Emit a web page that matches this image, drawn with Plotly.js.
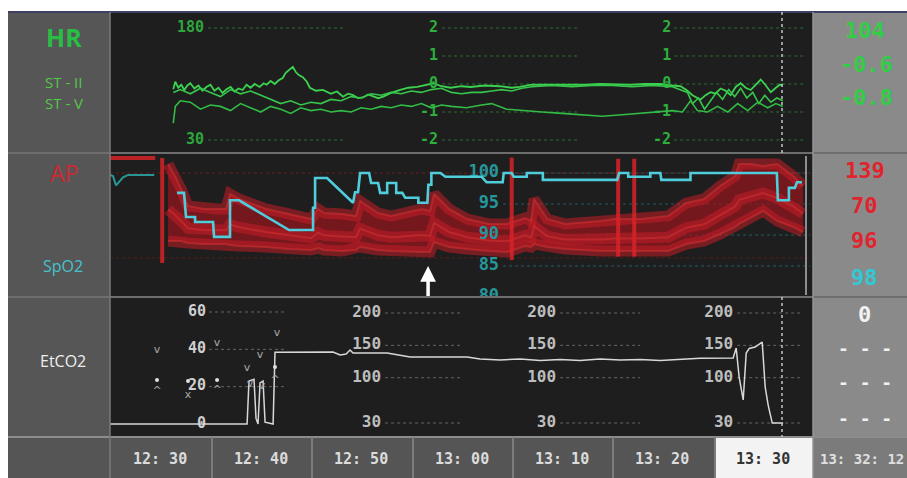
<!DOCTYPE html>
<html><head><meta charset="utf-8">
<script src="https://cdn.plot.ly/plotly-3.0.1.min.js"></script>
<style>html,body{margin:0;padding:0;background:#fff;overflow:hidden}#chart{width:907px;height:478px}</style>
</head><body><div id="chart"></div>
<script>
// ---------------- DATA (time in minutes after 12:25) ----------------
const timeLabels = ['12: 30','12: 40','12: 50','13: 00','13: 10','13: 20','13: 30'];
const timeCenters = [5,15,25,35,45,55,65];
const clockNow = '13: 32: 12';

const hrT = [6.3,6.5,6.8,7.1,7.4,7.7,8.0,8.4,8.8,9.2,9.6,10.0,10.4,10.8,11.2,11.6,12.0,12.4,12.8,13.2,13.6,14.0,14.4,14.9,15.3,15.6,16.0,16.4,16.8,17.2,17.5,17.8,18.2,18.5,18.8,19.2,19.6,19.9,
  20.5,21.2,22.0,22.6,23.2,23.7,24.2,24.7,25.2,25.7,26.2,26.7,27.2,28.0,28.9,29.7,30.6,31.4,32.2,33.0,33.9,35.0,35.9,37.3,38.8,40.0,40.8,42.0,42.8,44.3,45.8,47.3,48.8,50.3,51.8,53.3,54.8,56.0,56.8,57.4,58.0,58.8,59.3,59.8,60.3,60.8,61.3,61.8,62.3,62.8,63.3,63.8,64.3,64.8,65.3,65.8,66.3,66.7,67.0];
const hrV = [98,108,100,104,97,103,106,99,103,96,101,104,96,100,93,98,101,95,99,97,104,100,105,101,106,104,109,105,110,113,120,124,128,121,117,114,108,100,
  96,97,92,95,88,92,90,86,87,91,89,86,88,93,97,100,101,103,106,102,100,102,101,103,102,100,101,104,104,103,104,104,105,104,104,105,105,103,102,97,90,84,90,94,92,99,96,90,101,106,100,97,104,111,103,94,100,104,104];

const st2T = [6.3,7,8,9,10,11,12,13,14,15,16,17,18,19,20,21,22,23,24,25,26,27,28,29,30,31,32,33,34,35,36,37,38,39,40,41,42,44,46,48,50,52,54,56,57.5,58.0,58.6,59.2,59.8,60.4,61.0,61.6,62.2,62.8,63.4,64.0,64.6,65.2,65.8,66.4,67.0];
const st2V = [-0.3,-0.2,-0.35,-0.15,-0.3,-0.45,-0.2,-0.35,-0.25,-0.4,-0.55,-0.7,-0.6,-0.75,-0.65,-0.7,-0.55,-0.6,-0.45,-0.5,-0.35,-0.4,-0.3,-0.35,-0.25,-0.3,-0.2,-0.15,-0.3,-0.35,-0.3,-0.3,-0.25,-0.2,-0.25,-0.15,-0.1,-0.05,-0.1,-0.05,-0.05,-0.1,-0.05,-0.1,-0.3,-0.7,-0.5,-0.9,-0.6,-0.3,-0.55,-0.2,-0.45,-0.15,-0.5,-0.3,-0.7,-0.4,-0.65,-0.5,-0.6];

const stVT = [6.3,6.5,7,8,9,10,11,12,13,14,15,16,17,18,19,20,21,22,23,24,25,26,27,28,29,30,31,32,33,34,35.5,37,38,39.5,41,43,45,47,49,51,53,54.8,56,57,57.8,58.5,59.5,60.5,61.5,62.5,63.5,64.5,65.5,66.3,67.0];
const stVV = [-1.4,-0.8,-0.6,-0.65,-0.9,-0.75,-0.8,-0.95,-0.7,-0.85,-1.0,-0.8,-0.9,-1.05,-0.85,-0.95,-0.9,-1.0,-0.95,-1.0,-0.85,-0.9,-0.8,-0.85,-0.75,-0.8,-0.7,-0.85,-0.75,-0.8,-0.85,-0.75,-0.7,-0.9,-0.95,-1.0,-1.05,-1.1,-1.15,-1.1,-1.05,-1.0,-0.95,-1.0,-0.6,-0.95,-1.0,-0.8,-1.0,-0.7,-0.95,-0.65,-0.85,-0.7,-0.8];

const apT    = [5.78,6.47,7.07,7.77,9.36,10.66,11.55,11.95,12.85,15.54,17.83,20.02,20.72,21.31,23.11,24.5,24.9,26.69,27.99,31.08,31.87,32.27,33.76,35.56,37.75,39.54,41.33,41.93,42.23,43.53,45.32,48.9,50.2,52.89,55.58,57.37,59.16,60.76,62.25,62.65,63.75,65.04,66.43,68.03,69.02];
const apSys  = [135.5,125.0,113.8,99.0,96.4,96.4,96.4,109.4,105.1,96.4,92.1,87.7,96.4,92.9,92.1,90.3,103.3,92.9,90.3,96.4,94.7,109.4,96.4,87.7,83.4,83.4,88.6,86.0,105.1,87.7,83.4,86.0,87.7,87.7,90.3,101.6,105.1,116.4,125.0,135.5,135.5,133.7,135.5,125.0,116.4];
const apMean = [95.9,91.4,86.2,79.6,77.9,77.9,77.9,82.9,80.6,76.4,73.6,71.0,75.9,73.5,72.6,71.9,79.4,73.5,71.9,73.8,73.0,84.4,76.4,71.8,69.0,68.4,73.6,71.5,81.6,72.7,69.9,70.0,70.8,70.8,71.9,80.2,83.1,91.4,98.6,104.4,107.4,110.3,105.9,98.6,92.4];
const apDia  = [68.6,68.6,68.6,66.9,66.0,66.0,66.0,65.1,64.3,63.4,61.7,60.8,62.5,60.8,59.9,60.8,63.4,60.8,59.9,59.1,59.1,67.7,63.4,61.7,59.9,59.1,64.3,63.4,66.0,63.4,61.7,59.9,59.9,59.9,59.9,66.0,68.6,74.7,80.8,83.4,88.6,94.7,86.0,80.8,76.4];
const apArtT = [0,4.5,null,5.2,5.2,null,40.0,40.0,null,50.6,50.6,null,52.2,52.2];
const apArtV = [140.7,140.7,null,140.7,49.5,null,141,52,null,140,55,null,140,55];

const spPreT = [0,0.3,0.6,0.9,1.3,1.8,4.4];
const spPreV = [99.7,99.5,98.0,98.6,99.3,99.7,99.7];
const spT = [6.67,7.37,7.57,8.47,8.47,10.26,10.36,11.95,11.95,12.85,17.83,20.22,20.22,20.42,20.42,21.61,24.2,24.4,24.7,24.9,25.8,26.0,26.7,26.9,27.6,27.6,28.5,28.5,29.1,29.4,30.7,30.7,31.6,31.7,32.0,32.0,32.9,33.4,37.0,37.5,39.1,39.2,40.0,40.2,41.5,41.5,43.1,43.1,50.5,50.7,51.6,51.6,53.8,53.8,54.8,54.9,57.8,57.8,66.4,66.5,67.6,67.6,68.2,68.4,68.9];
const spV = [96.8,96.8,92.9,92.9,92.1,92.1,89.7,89.7,95.6,95.6,90.8,90.8,94.4,94.4,99.2,99.2,95.2,96.9,96.9,100,100,98.4,98.4,96.8,96.8,98.4,98.4,96.8,96.8,96.0,96.0,95.2,95.2,98.1,98.1,100,100,99.4,99.4,98.5,98.5,100,100,99.4,99.4,100,100,98.9,98.9,100,100,99.4,99.4,100,100,98.9,98.9,100,100,95.6,95.6,97.6,97.6,98.5,98.5];

const etT = [0,13.65,13.84,14.34,14.54,14.74,14.94,15.24,15.44,16.24,16.43,18.92,22.21,22.91,23.51,23.9,24.2,27.59,29.88,35.56,36.85,38.84,40.84,42.83,44.82,46.81,48.8,50.8,52.79,54.78,56.77,58.76,62.05,62.35,62.65,63.05,63.35,63.65,64.24,64.94,65.24,65.54,65.94,67.03];
const etV = [0,0,23,24,3,0,22,23,1,0,38.5,38.6,38.6,37.0,37.5,39.6,38.0,38.0,35.9,35.9,34.8,34.3,34.8,34.0,34.6,34.0,34.8,34.3,34.6,34.0,34.8,35.2,35.4,40.7,25,12.9,38,40.5,41.2,43.9,19.8,10,0.5,0.5];
const etMarkT = [4.68,10.66,16.63,14.94,13.65,4.68,7.77,10.66,16.43,13.94,15.14];
const etMarkV = [39.6,43.4,48.7,37.0,30.0,17.7,15.5,18.2,23.6,21.4,20.4];
const etMarkSym = ['v','v','v','v','v','^','x','^','^','v','v'];
const etDotT = [4.68,7.77,10.66,16.43];
const etDotV = [23.6,23.0,23.6,30.5];

const hrScale = [180,30];
const stScale = [2,1,0,-1,-2];
const spScale = [100,95,90,85,80];
const etScale = [60,40,20,0];
const pawScale = [200,150,100,30];

const nowVals = {hr:'104', st2:'-0.6', stV:'-0.8', sys:'139', dia:'70', mean:'96', spo2:'98', etco2:'0'};

// ---------------- LAYOUT HELPERS ----------------
const W=907,H=478;
const px=x=>x/W, py=y=>1-y/H;
const T=p=>(p-110)/10.04;
const MONO='DejaVu Sans Mono, monospace';

const traces=[];
function textTrace(xs, ys, texts, yaxis, color, size){
  traces.push({type:'scatter',mode:'text',x:xs,y:ys,text:texts.map(s=>'<b>'+s+'</b>'),
    textposition:'middle left',textfont:{family:MONO,size:size,color:color},
    xaxis:'x',yaxis:yaxis,hoverinfo:'skip',cliponaxis:true});
}
function line(x,y,yaxis,color,width,extra){
  traces.push(Object.assign({type:'scatter',mode:'lines',x:x,y:y,xaxis:'x',yaxis:yaxis,
    line:{color:color,width:width},hoverinfo:'skip',connectgaps:false},extra||{}));
}

// scale labels (under the data)
textTrace(hrScale.map(()=>T(204)), hrScale, hrScale.map(String), 'y', 'rgb(45,165,60)', 15);
[T(438),T(671)].forEach(xp=>textTrace(stScale.map(()=>xp), stScale, stScale.map(String), 'y2', 'rgb(45,175,60)', 15));
textTrace(etScale.map(()=>T(206)), etScale, etScale.map(String), 'y5', '#cfcfcf', 15);
[T(381),T(556),T(733)].forEach(xp=>textTrace(pawScale.map(()=>xp), pawScale, pawScale.map(String), 'y6', '#bdbdbd', 16));

// HR / ST
line(hrT,hrV,'y','rgb(60,210,80)',1.8);
line(st2T,st2V,'y2','rgb(55,198,75)',1.6);
line(stVT,stVV,'y2','rgb(50,188,70)',1.6);

// AP band
line(apT,apDia,'y3','rgba(0,0,0,0)',0);
line(apT,apSys,'y3','rgba(0,0,0,0)',0,{fill:'tonexty',fillcolor:'rgba(150,22,30,0.72)'});
[apSys,apMean,apDia].forEach(a=>line(apT,a,'y3','rgba(195,30,38,0.55)',11));
[apSys,apMean,apDia].forEach(a=>line(apT,a,'y3','rgba(225,55,55,0.45)',2));
line(apArtT,apArtV,'y3','rgba(215,35,40,0.85)',4);

// SpO2
textTrace(spScale.map(()=>T(499)), spScale, spScale.map(String), 'y4', 'rgb(38,150,155)', 17);
line(spPreT,spPreV,'y4','rgb(40,150,150)',2);
line(spT,spV,'y4','rgb(80,205,220)',2.6);

// EtCO2
line(etT,etV,'y5','#d8d8d8',1.5);
traces.push({type:'scatter',mode:'text',x:etMarkT,y:etMarkV,text:etMarkSym,textposition:'middle center',
  textfont:{family:'DejaVu Sans',size:11,color:'#a8a8a8'},xaxis:'x',yaxis:'y5',hoverinfo:'skip'});
traces.push({type:'scatter',mode:'markers',x:etDotT,y:etDotV,marker:{size:4,color:'#e0e0e0'},xaxis:'x',yaxis:'y5',hoverinfo:'skip'});

// ---------------- SHAPES ----------------
const shapes=[];
const rect=(x0,y0,x1,y1,fill,layer)=>shapes.push({type:'rect',xref:'paper',yref:'paper',x0:px(x0),x1:px(x1),y0:py(y1),y1:py(y0),fillcolor:fill,line:{width:0},layer:layer||'below'});
const pline=(x0,y0,x1,y1,color,width,dash,layer)=>shapes.push({type:'line',xref:'paper',yref:'paper',x0:px(x0),x1:px(x1),y0:py(y0),y1:py(y1),line:{color:color,width:width,dash:dash||'solid'},layer:layer||'above'});
const dline=(x0,x1,y,yref,color)=>shapes.push({type:'line',xref:'x',yref:yref,x0:x0,x1:x1,y0:y,y1:y,line:{color:color,width:1,dash:'dot'},layer:'below'});

rect(8,12,110,437,'#565656');
rect(110,12,813,437,'#1e1e1e');
rect(813,12,907,437,'#8a8a8a');
rect(8,437,813,478,'#555555');
rect(715,437,813,478,'#f3f3f3');
rect(813,437,907,478,'#7b7b7b');

// gridlines
hrScale.forEach(v=>dline(T(208),T(343),v,'y','rgba(45,130,55,0.8)'));
[[T(442),T(577)],[T(674),T(805)]].forEach(r=>stScale.forEach(v=>dline(r[0],r[1],v,'y2','rgba(45,130,55,0.8)')));
dline(T(110),T(813),127.6,'y3','rgba(140,30,30,0.7)');
dline(T(110),T(813),53.9,'y3','rgba(140,30,30,0.55)');
spScale.slice(0,4).forEach(v=>dline(T(503),T(810),v,'y4','rgba(40,120,125,0.7)'));
etScale.slice(0,3).forEach(v=>dline(T(209),T(287),v,'y5','rgba(150,150,150,0.6)'));
[[T(385),T(463)],[T(560),T(640)],[T(737),T(803)]].forEach(r=>pawScale.forEach(v=>dline(r[0],r[1],v,'y6','rgba(150,150,150,0.6)')));

// frame lines
pline(8,12,907,12,'#3d4060',2);
pline(8,153,907,153,'#6e6e6e',2);
pline(8,297,907,297,'#6e6e6e',2);
pline(8,437,907,437,'#8c8c8c',2);
pline(110,12,110,478,'#7a7a7a',1.5);
pline(813,12,813,478,'#959595',1.5);
[212,312,413,513,613,715].forEach(x=>pline(x,437,x,478,'#7c7c7c',2));
pline(782,12,782,153,'#c4c4c4',1.5,'dot');
pline(782,297,782,437,'#c4c4c4',1.5,'dot');
pline(806,156,806,295,'#8e8e8e',2);

// ---------------- ANNOTATIONS ----------------
const ann=[];
const ptext=(x,y,text,color,size,family,anchor)=>ann.push({xref:'paper',yref:'paper',x:px(x),y:py(y),text:text,showarrow:false,
  xanchor:anchor||'center',yanchor:'middle',font:{family:family||MONO,size:size,color:color}});
ptext(64,37,'<b>HR</b>','rgb(40,190,70)',25,'Open Sans');
ptext(64,82,'ST - II','rgb(85,200,70)',15,'Open Sans');
ptext(64,103,'ST - V','rgb(85,200,70)',15,'Open Sans');
ptext(64,173,'AP','rgb(205,40,50)',23,'Open Sans');
ptext(63,266,'SpO2','rgb(70,195,205)',16,'Open Sans');
ptext(63,361,'EtCO2','#eeeeee',16,'Open Sans');

ptext(865,30,'<b>'+nowVals.hr+'</b>','rgb(50,205,70)',22);
ptext(866,64,'<b>'+nowVals.st2+'</b>','rgb(50,205,70)',22);
ptext(866,97,'<b>'+nowVals.stV+'</b>','rgb(50,205,70)',22);
ptext(865,170,'<b>'+nowVals.sys+'</b>','rgb(225,35,45)',22);
ptext(864,205,'<b>'+nowVals.dia+'</b>','rgb(225,35,45)',22);
ptext(864,240,'<b>'+nowVals.mean+'</b>','rgb(225,35,45)',22);
ptext(864,277,'<b>'+nowVals.spo2+'</b>','rgb(50,200,212)',22);
ptext(864,314,'<b>'+nowVals.etco2+'</b>','#f2f2f2',22);
[348,382,418].forEach(y=>ptext(865,y,'<b>- - -</b>','#f0f0f0',18));

timeLabels.forEach((t,i)=>ann.push({xref:'x',yref:'paper',x:timeCenters[i],y:py(459),text:'<b>'+t+'</b>',showarrow:false,
  xanchor:'center',yanchor:'middle',font:{family:MONO,size:15,color:i===6?'#333333':'#dcdcdc'}}));
ptext(818,459,'<b>'+clockNow+'</b>','#e0e0e0',14,MONO,'left');

ann.push({xref:'x',yref:'paper',x:T(428),y:py(266),ax:0,ay:40,text:' ',showarrow:true,arrowhead:2,arrowsize:0.9,arrowwidth:3.5,arrowcolor:'#ffffff',standoff:0});

const layout={
  width:W,height:H,margin:{l:0,r:0,t:0,b:0,pad:0},
  paper_bgcolor:'#ffffff',plot_bgcolor:'rgba(0,0,0,0)',showlegend:false,
  xaxis:{domain:[px(110),px(813)],range:[0,70],visible:false,fixedrange:true},
  yaxis:{domain:[py(153),py(12)],range:[12.6,201.4],visible:false,anchor:'x'},
  yaxis2:{overlaying:'y',range:[-2.464,2.571],visible:false,anchor:'x'},
  yaxis3:{domain:[py(297),py(153)],range:[20,145],visible:false,anchor:'x'},
  yaxis4:{overlaying:'y3',range:[80,103.23],visible:false,anchor:'x'},
  yaxis5:{domain:[py(437),py(297)],range:[-6.96,68.03],visible:false,anchor:'x'},
  yaxis6:{overlaying:'y5',range:[8.4,224.7],visible:false,anchor:'x'},
  shapes:shapes,annotations:ann
};
Plotly.newPlot('chart',traces,layout,{staticPlot:true,displayModeBar:false});
</script></body></html>
